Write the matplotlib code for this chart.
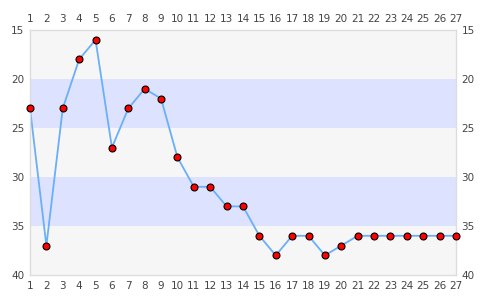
import matplotlib
matplotlib.use("Agg")
import matplotlib.pyplot as plt

x_vals = list(range(1, 28))
y_vals = [23, 37, 23, 18, 16, 27, 23, 21, 22, 28, 31, 31, 33, 33, 36, 38,
          36, 36, 38, 37, 36, 36, 36, 36, 36, 36, 36]
bands = [(15, 20, "#f6f6f6"), (20, 25, "#dde3fe"), (25, 30, "#f6f6f6"),
         (30, 35, "#dde3fe"), (35, 40, "#f6f6f6")]
y_ticks = [15, 20, 25, 30, 35, 40]

fig = plt.figure(figsize=(4.85, 3.0), dpi=100)
ax = fig.add_axes([30 / 485, 25 / 300, 426 / 485, 245 / 300])

for lo, hi, c in bands:
    ax.axhspan(lo, hi, color=c, zorder=0, lw=0)

ax.plot(x_vals, y_vals, color="#6aaff8", lw=1.3, zorder=2)
ax.plot(x_vals, y_vals, "o", ms=5, mfc="#ff0000", mec="black", mew=0.8,
        zorder=3, clip_on=False)

ax.set_xlim(1, 27)
ax.set_ylim(40, 15)
ax.set_xticks(x_vals)
ax.set_yticks(y_ticks)
ax.tick_params(axis="both", length=0, labelsize=7.5, colors="#444444",
               top=True, labeltop=True, right=True, labelright=True, pad=4)
for s in ax.spines.values():
    s.set_color("#dddddd")
    s.set_linewidth(1)

fig.savefig("out.png", dpi=100)
